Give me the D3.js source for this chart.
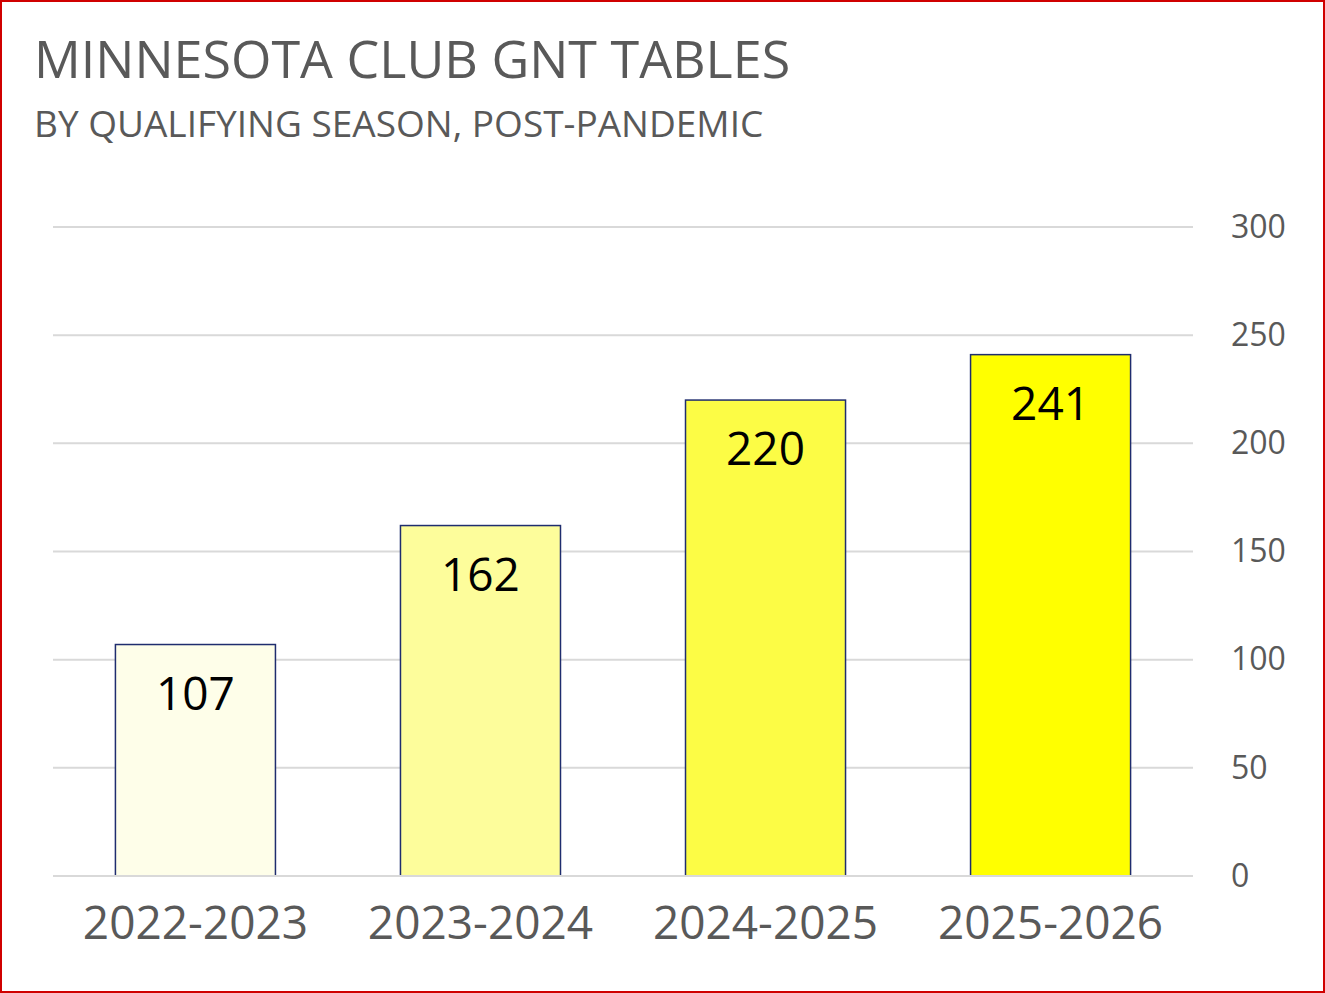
<!DOCTYPE html>
<html>
<head>
    <title>Minnesota Club GNT Tables</title>
    <script src="https://d3js.org/d3.v7.min.js"></script>
    <style>
        body { margin: 0; background: #fff; }
        svg { font-family: "Open Sans", "Liberation Sans", sans-serif; }
    </style>
</head>
<body>
    <div id="chart"></div>
    <script>
        var data = [
            {"season": "2022-2023", "tables": 107, "color": "#fefee9"},
            {"season": "2023-2024", "tables": 162, "color": "#fdfd9b"},
            {"season": "2024-2025", "tables": 220, "color": "#fcfc45"},
            {"season": "2025-2026", "tables": 241, "color": "#ffff00"}
        ];

        var W = 1325, H = 993;
        var svg = d3.select("#chart").append("svg").attr("width", W).attr("height", H);

        svg.append("rect").attr("x", 1).attr("y", 1).attr("width", W - 2).attr("height", H - 2)
           .attr("fill", "#fff").attr("stroke", "#d00000").attr("stroke-width", 2);

        svg.append("text").attr("x", 34).attr("y", 78).attr("font-size", 52)
           .attr("fill", "#595959").text("MINNESOTA CLUB GNT TABLES");
        svg.append("text").attr("x", 34).attr("y", 137).attr("font-size", 37)
           .attr("fill", "#595959").text("BY QUALIFYING SEASON, POST-PANDEMIC");

        var x = d3.scaleBand().domain(data.map(function(d) { return d.season; }))
            .range([53, 1193]).paddingInner(0.4386).paddingOuter(0.219);
        var y = d3.scaleLinear().domain([0, 300]).range([876, 227]);

        // gridlines
        svg.append("g").selectAll("line").data(y.ticks(6)).enter().append("line")
           .attr("x1", 53).attr("x2", 1193)
           .attr("y1", function(d) { return y(d); }).attr("y2", function(d) { return y(d); })
           .attr("stroke", "#d9d9d9").attr("stroke-width", 2);

        // right axis
        var ay = svg.append("g").attr("transform", "translate(1193,0)")
           .call(d3.axisRight(y).ticks(6).tickSize(0).tickPadding(38));
        ay.select(".domain").remove();
        ay.selectAll("text").attr("font-size", 32).attr("fill", "#595959")
           .attr("font-family", "Open Sans, Liberation Sans, sans-serif");

        // bottom axis
        var ax = svg.append("g").attr("transform", "translate(0,876)")
           .call(d3.axisBottom(x).tickSize(0).tickPadding(30));
        ax.select(".domain").remove();
        ax.selectAll("text").attr("font-size", 46).attr("fill", "#595959")
           .attr("font-family", "Open Sans, Liberation Sans, sans-serif");

        svg.selectAll(".bar").data(data).enter().append("rect")
           .attr("class", "bar")
           .attr("x", function(d) { return x(d.season); })
           .attr("width", x.bandwidth())
           .attr("y", function(d) { return y(d.tables); })
           .attr("height", function(d) { return 876 - y(d.tables); })
           .attr("fill", function(d) { return d.color; })
           .attr("stroke", "#1f2d6e").attr("stroke-width", 1.5);

        svg.selectAll(".lbl").data(data).enter().append("text")
           .attr("class", "lbl")
           .attr("x", function(d) { return x(d.season) + x.bandwidth() / 2; })
           .attr("y", function(d) { return y(d.tables) + 65; })
           .attr("text-anchor", "middle").attr("font-size", 46).attr("fill", "#000")
           .text(function(d) { return d.tables; });

        // re-draw baseline over bars
        svg.append("line").attr("x1", 53).attr("x2", 1193).attr("y1", y(0)).attr("y2", y(0))
           .attr("stroke", "#d9d9d9").attr("stroke-width", 2);
    </script>
</body>
</html>
